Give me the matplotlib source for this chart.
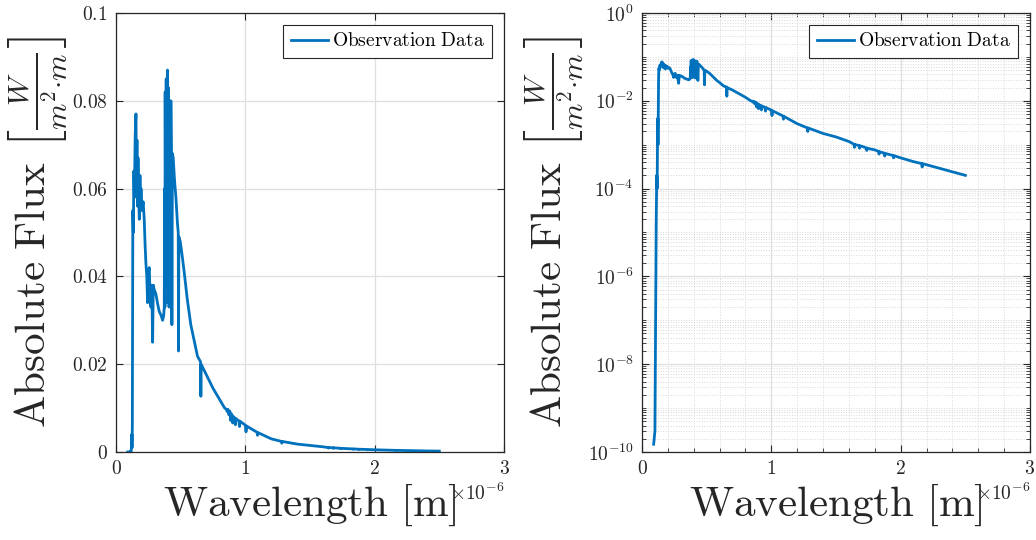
import numpy as np
import matplotlib

matplotlib.use("Agg")
import matplotlib.pyplot as plt
from matplotlib.ticker import FixedLocator, FixedFormatter, NullFormatter

# spectrum (wavelength in micrometres, flux in W/(m^2 m))
wavelength_um = [
    0.090, 0.100, 0.103, 0.106, 0.108, 0.110, 0.114, 0.117, 0.120, 0.122,
    0.124, 0.126, 0.128, 0.130, 0.134, 0.138, 0.142, 0.148, 0.154, 0.158,
    0.162, 0.166, 0.170, 0.175, 0.180, 0.185, 0.190, 0.193, 0.200, 0.210,
    0.218, 0.225, 0.231, 0.238, 0.244, 0.250, 0.257, 0.263, 0.270, 0.276,
    0.283, 0.288, 0.295, 0.308, 0.320, 0.334, 0.350, 0.360, 0.368, 0.373,
    0.376, 0.378, 0.380, 0.384, 0.388, 0.391, 0.394, 0.398, 0.402, 0.405,
    0.410, 0.414, 0.418, 0.421, 0.424, 0.428, 0.432, 0.436, 0.442, 0.452,
    0.463, 0.475, 0.481, 0.483, 0.486, 0.496, 0.510, 0.527, 0.550, 0.578,
    0.600, 0.630, 0.654, 0.656, 0.658, 0.700, 0.750, 0.800, 0.840, 0.850,
    0.860, 0.866, 0.872, 0.880, 0.886, 0.892, 0.900, 0.902, 0.906, 0.920,
    0.923, 0.927, 0.950, 0.955, 0.959, 1.000, 1.005, 1.010, 1.090, 1.094,
    1.098, 1.200, 1.280, 1.282, 1.285, 1.400, 1.500, 1.600, 1.640, 1.642,
    1.645, 1.680, 1.682, 1.685, 1.700, 1.736, 1.738, 1.740, 1.800, 1.830,
    1.833, 1.836, 1.875, 1.877, 1.880, 1.940, 1.945, 1.950, 2.000, 2.100,
    2.164, 2.166, 2.168, 2.300, 2.400, 2.500,
]
flux = [
    1.5e-10, 3e-10, 1e-8, 3e-7, 4e-6, 2e-5, 2e-4, 1e-4, 1.5e-3, 4e-3,
    1e-3, 6e-3, 0.030, 0.055, 0.050, 0.064, 0.058, 0.072, 0.077, 0.063,
    0.071, 0.056, 0.067, 0.058, 0.053, 0.063, 0.056, 0.060, 0.055, 0.057,
    0.053, 0.047, 0.043, 0.040, 0.034, 0.041, 0.042, 0.036, 0.033, 0.038,
    0.025, 0.038, 0.037, 0.036, 0.034, 0.032, 0.031, 0.030, 0.031, 0.033,
    0.060, 0.033, 0.082, 0.040, 0.085, 0.034, 0.079, 0.087, 0.040, 0.083,
    0.033, 0.079, 0.072, 0.034, 0.080, 0.068, 0.029, 0.068, 0.067, 0.062,
    0.058, 0.052, 0.050, 0.023, 0.049, 0.048, 0.045, 0.041, 0.035, 0.029,
    0.026, 0.0218, 0.0205, 0.0127, 0.0200, 0.0175, 0.0145, 0.0120, 0.0100, 0.0098,
    0.0092, 0.0097, 0.0085, 0.0093, 0.0072, 0.0087, 0.0082, 0.0066, 0.0081, 0.0077,
    0.0062, 0.0076, 0.0071, 0.0058, 0.0070, 0.0061, 0.0046, 0.0059, 0.0045, 0.0038,
    0.0044, 0.0030, 0.0024, 0.0020, 0.0024, 0.0018, 0.0015, 0.00118, 0.00102, 0.00087,
    0.00101, 0.00095, 0.00083, 0.00094, 0.00092, 0.00084, 0.00074, 0.00083, 0.00076, 0.00070,
    0.00061, 0.00069, 0.00064, 0.00055, 0.00063, 0.00057, 0.00050, 0.00056, 0.00050, 0.00041,
    0.00037, 0.00031, 0.00037, 0.00029, 0.00024, 0.00020,
]

x_ticks = [0, 1e-6, 2e-6, 3e-6]
lin_ticks = [0, 0.02, 0.04, 0.06, 0.08, 0.1]
lin_labels = ["$0$", "$0.02$", "$0.04$", "$0.06$", "$0.08$", "$0.1$"]
log_ticks = [1e-10, 1e-8, 1e-6, 1e-4, 1e-2, 1e0]
log_labels = ["$10^{-10}$", "$10^{-8}$", "$10^{-6}$", "$10^{-4}$", "$10^{-2}$", "$10^{0}$"]

LINE_COLOR = "#0072BD"
AX_COLOR = "#262626"

plt.rcParams["mathtext.fontset"] = "cm"
plt.rcParams["font.family"] = "serif"
plt.rcParams["font.serif"] = ["cmr10", "DejaVu Serif"]
plt.rcParams["axes.formatter.use_mathtext"] = True

wl_m = np.array(wavelength_um) * 1e-6
flux = np.array(flux)

fig = plt.figure(figsize=(10.36, 5.4), dpi=100)
ax_lin = fig.add_axes([0.112, 0.163, 0.3745, 0.813])
ax_log = fig.add_axes([0.6197, 0.163, 0.3745, 0.813])

xlabel = r"$\mathrm{Wavelength\ [m]}$"
ylabel = r"$\mathrm{Absolute\ Flux}\ \left[\frac{W}{m^2{\cdot}m}\right]$"

for ax, logy in [(ax_lin, False), (ax_log, True)]:
    ax.plot(wl_m, flux, color=LINE_COLOR, linewidth=2, label=r"$\mathrm{Observation\ Data}$")
    ax.set_xlim(0, 3e-6)
    ax.set_xticks(x_ticks)
    if logy:
        ax.set_yscale("log")
        ax.set_ylim(1e-10, 1e0)
        ax.yaxis.set_major_locator(FixedLocator(log_ticks))
        ax.yaxis.set_major_formatter(FixedFormatter(log_labels))
        minors = [m * 10.0 ** k for k in range(-10, 0) for m in range(1, 10)]
        minors = [v for v in minors if v not in log_ticks]
        ax.yaxis.set_minor_locator(FixedLocator(minors))
        ax.yaxis.set_minor_formatter(NullFormatter())
        ax.grid(True, which="minor", axis="y", color="#d8d8d8", linestyle=":", linewidth=0.7)
        ax.xaxis.set_minor_locator(FixedLocator(np.arange(0, 3.01e-6, 0.2e-6)))
        ax.grid(True, which="minor", axis="x", color="#d8d8d8", linestyle=":", linewidth=0.7)
    else:
        ax.set_ylim(0, 0.1)
        ax.yaxis.set_major_locator(FixedLocator(lin_ticks))
        ax.yaxis.set_major_formatter(FixedFormatter(lin_labels))
    ax.grid(True, which="major", color="#dfdfdf", linewidth=0.9)
    ax.set_axisbelow(True)
    ax.tick_params(which="both", direction="in", top=True, right=True, colors=AX_COLOR,
                   labelsize=14, pad=6)
    ax.tick_params(which="major", length=5, width=0.8)
    ax.tick_params(which="minor", length=3, width=0.6)
    for sp in ax.spines.values():
        sp.set_color(AX_COLOR)
        sp.set_linewidth(0.9)
    ax.set_xlabel(xlabel, fontsize=31, color=AX_COLOR, labelpad=3)
    ax.set_ylabel(ylabel, fontsize=31, color=AX_COLOR, labelpad=1)
    ax.xaxis.get_offset_text().set_fontsize(14)
    ax.xaxis.get_offset_text().set_color(AX_COLOR)
    leg = ax.legend(loc="upper right", fontsize=14, fancybox=False, framealpha=1,
                    edgecolor=AX_COLOR, handlelength=1.9, handletextpad=0.2,
                    borderpad=0.4, borderaxespad=0.6)
    leg.get_frame().set_linewidth(0.8)

fig.savefig("out.png", dpi=100)
